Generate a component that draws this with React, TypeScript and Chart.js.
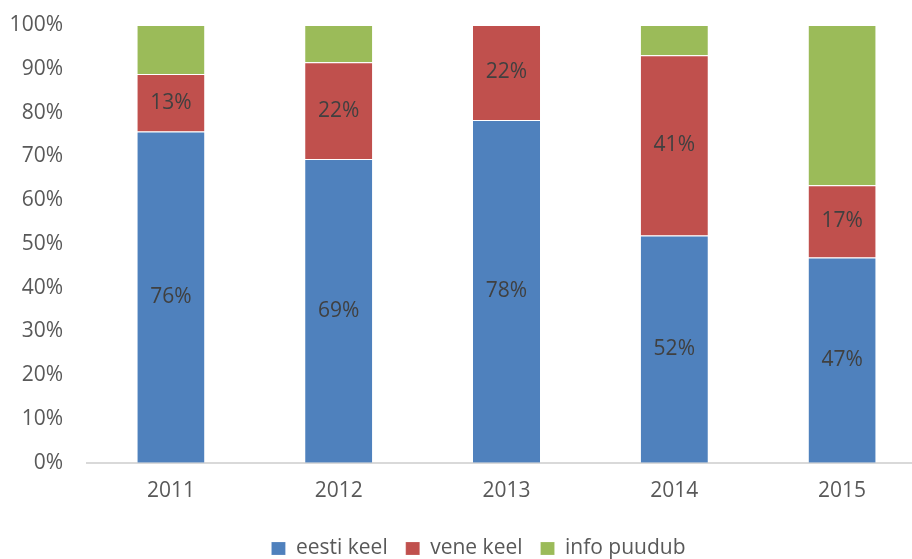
import React, { useEffect, useRef } from "react";
import { Chart, registerables } from "chart.js";

Chart.register(...registerables);

const years = ["2011", "2012", "2013", "2014", "2015"];
const eestiKeel = [75.7, 69.4, 78.3, 51.9, 46.9];
const veneKeel = [13.1, 22.1, 21.7, 41.2, 16.5];
const infoPuudub = [11.2, 8.5, 0, 6.9, 36.6];
const seriesNames = ["eesti keel", "vene keel", "info puudub"];
const seriesColors = ["#4F81BD", "#C0504D", "#9BBB59"];
const labeledSeries = [0, 1];

const FONT = "'Open Sans', sans-serif";

const dataLabelPlugin = {
  id: "segmentLabels",
  afterDatasetsDraw(chart: any) {
    const ctx = chart.ctx;
    ctx.save();
    ctx.font = `21px ${FONT}`;
    ctx.fillStyle = "#404040";
    ctx.textAlign = "center";
    ctx.textBaseline = "middle";
    labeledSeries.forEach((di) => {
      const meta = chart.getDatasetMeta(di);
      const ds = chart.data.datasets[di];
      meta.data.forEach((el: any, i: number) => {
        const v = ds.data[i] as number;
        if (!v) return;
        const y = (el.y + el.base) / 2;
        ctx.fillText(Math.round(v) + "%", el.x, y);
      });
    });
    ctx.restore();
  },
};

const legendShiftPlugin = {
  id: "legendShift",
  afterLayout(chart: any) {
    const lg = chart.legend;
    if (lg) {
      lg.left += 10;
      lg.right += 10;
    }
  },
};

export default function App() {
  const ref = useRef<HTMLCanvasElement | null>(null);
  useEffect(() => {
    if (!ref.current) return;
    const data = [eestiKeel, veneKeel, infoPuudub];
    const chart = new Chart(ref.current, {
      type: "bar",
      data: {
        labels: years,
        datasets: data.map((d, i) => ({
          label: seriesNames[i],
          data: d,
          backgroundColor: seriesColors[i],
          borderColor: "rgba(255,255,255,0.7)",
          borderWidth: { top: 1, left: 0, right: 0, bottom: 0 },
          borderSkipped: false,
          barPercentage: 0.4,
          categoryPercentage: 1,
        })),
      },
      options: {
        animation: false,
        responsive: true,
        maintainAspectRatio: false,
        layout: { padding: { left: 11, top: 0, right: 30, bottom: 0 } },
        plugins: {
          legend: {
            position: "bottom",
            labels: {
              font: { family: FONT, size: 21 },
              color: "#595959",
              boxWidth: 14,
              boxHeight: 13,
              padding: 18,
            },
          },
          tooltip: { enabled: false },
        },
        scales: {
          x: {
            stacked: true,
            grid: { display: false, drawTicks: false },
            border: { display: true, color: "#D9D9D9", width: 2 },
            ticks: {
              font: { family: FONT, size: 21 },
              color: "#595959",
              padding: 16,
            },
          },
          y: {
            stacked: true,
            min: 0,
            max: 100,
            grid: { display: false, drawTicks: false },
            border: { display: false },
            afterFit: (scale: any) => {
              scale.width = 76;
              scale.paddingTop = 25;
              scale.paddingBottom = 13;
            },
            ticks: {
              stepSize: 10,
              font: { family: FONT, size: 21 },
              color: "#595959",
              padding: 24,
              callback: (v: any) => v + "%",
            },
          },
        },
      },
      plugins: [dataLabelPlugin, legendShiftPlugin],
    });
    return () => chart.destroy();
  }, []);
  return (
    <div
      style={{
        position: "fixed",
        left: 0,
        top: 0,
        width: 912,
        height: 559,
        overflow: "hidden",
        background: "#fff",
      }}
    >
      <div style={{ position: "relative", width: 956, height: 569 }}>
        <canvas ref={ref} />
      </div>
    </div>
  );
}
